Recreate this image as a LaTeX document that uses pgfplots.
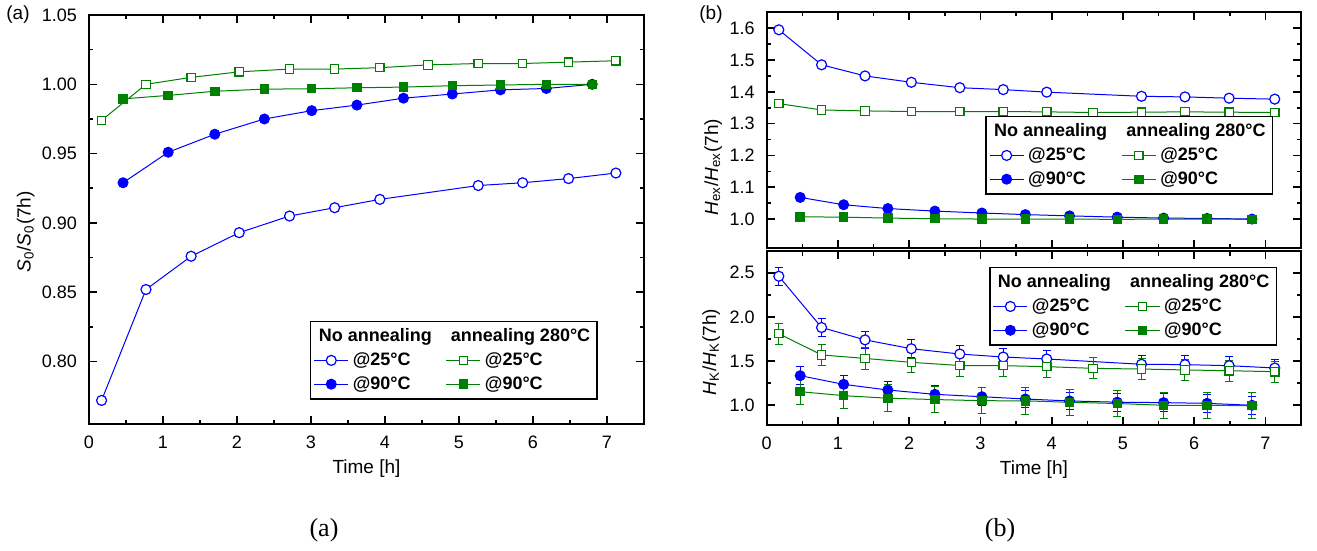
\documentclass[border=0pt]{standalone}
\usepackage{fontspec}
\setmainfont{Liberation Sans}
\newfontfamily\capfont{Liberation Serif}
\usepackage{pgfplots}
\pgfplotsset{compat=1.18}

\definecolor{ob}{RGB}{0,0,255}
\definecolor{og}{RGB}{0,128,0}

\pgfplotsset{
  ax/.style={
    scale only axis, anchor=south west,
    xmin=0, xmax=7.5, xtick={0,...,7},
    minor x tick num=1, minor y tick num=1,
    tick align=inside, major tick length=4pt, minor tick length=2.2pt,
    axis line style={line width=1pt},
    every tick/.append style={line width=0.8pt, black},
    tick label style={font=\fontsize{9}{10}\selectfont},
    label style={font=\fontsize{9.5}{11}\selectfont},
    yticklabel style={xshift=-2.5pt},
    xticklabel style={yshift=-2.5pt},
    /pgf/number format/assume math mode=true,
    legend columns=2,
    legend cell align=left,
    legend style={draw=black, line width=0.8pt, inner sep=1.5pt,
      font=\bfseries\fontsize{9}{10.5}\selectfont,
      /tikz/every even column/.append style={column sep=5pt}},
  },
  bo/.style={color=ob, line width=0.5pt, mark=*, mark size=2.5pt,
    mark options={fill=white, line width=0.6pt}},
  bf/.style={color=ob, line width=0.5pt, mark=*, mark size=2.5pt,
    mark options={fill=ob}},
  go/.style={color=og, line width=0.5pt, mark=square*, mark size=2.1pt,
    mark options={fill=white, line width=0.6pt}},
  gf/.style={color=og, line width=0.5pt, mark=square*, mark size=2.1pt,
    mark options={fill=og}},
  eb/.style={error bars/.cd, y dir=both, y explicit,
    error bar style={line width=0.5pt},
    error mark options={rotate=90, line width=0.5pt, mark size=2pt}},
}

\newcommand{\heads}{%
  \addlegendimage{empty legend}\addlegendentry{\hspace{-17pt}No annealing}
  \addlegendimage{empty legend}\addlegendentry{\hspace{-17pt}annealing 280°C}}

\begin{document}
\begin{tikzpicture}
\useasboundingbox (0,0) rectangle (658.5pt,275.5pt);

% ---- (a) S0/S0(7h)
\begin{axis}[ax,
  at={(44.5pt,63.5pt)}, width=277.5pt, height=204.5pt,
  ymin=0.755, ymax=1.05, ytick={0.80,0.85,...,1.06},
  y tick label style={/pgf/number format/fixed, /pgf/number format/fixed zerofill, /pgf/number format/precision=2},
  xlabel={Time [h]},
  xlabel style={at={(axis description cs:0.5,-0.086)}, anchor=north, inner sep=0pt},
  ylabel={\textit{S}\textsubscript{0}/\textit{S}\textsubscript{0}(7h)},
  ylabel style={at={(axis description cs:-0.114,0.47)}, anchor=center, inner sep=0pt},
  legend style={at={(0.398,0.059)}, anchor=south west},
]
\heads
\addplot[bo] coordinates {(0.17,0.772)(0.77,0.852)(1.38,0.876)(2.03,0.893)(2.71,0.905)(3.32,0.911)(3.93,0.917)(5.26,0.927)(5.86,0.929)(6.48,0.932)(7.12,0.936)};
\addlegendentry{@25°C}
\addplot[go] coordinates {(0.17,0.974)(0.77,1.000)(1.38,1.005)(2.03,1.009)(2.71,1.011)(3.32,1.011)(3.93,1.012)(4.58,1.014)(5.26,1.015)(5.86,1.015)(6.48,1.016)(7.12,1.017)};
\addlegendentry{@25°C}
\addplot[bf] coordinates {(0.46,0.929)(1.07,0.951)(1.70,0.964)(2.37,0.975)(3.01,0.981)(3.62,0.985)(4.25,0.990)(4.91,0.993)(5.56,0.996)(6.18,0.997)(6.80,1.000)};
\addlegendentry{@90°C}
\addplot[gf] coordinates {(0.46,0.9895)(1.07,0.992)(1.70,0.995)(2.37,0.9965)(3.01,0.9968)(3.62,0.9975)(4.25,0.998)(4.91,0.999)(5.56,0.9995)(6.18,1.000)(6.80,1.000)};
\addlegendentry{@90°C}
\end{axis}

% ---- (b) top: Hex/Hex(7h)
\begin{axis}[ax,
  at={(383.35pt,151.5pt)}, width=267.2pt, height=118pt,
  ymin=0.909, ymax=1.651, ytick={1.0,1.1,...,1.65},
  y tick label style={/pgf/number format/fixed, /pgf/number format/fixed zerofill, /pgf/number format/precision=1},
  xticklabels={},
  ylabel={\textit{H}\textsubscript{ex}/\textit{H}\textsubscript{ex}(7h)},
  ylabel style={at={(axis description cs:-0.100,0.343)}, anchor=center, inner sep=0pt},
  legend style={at={(0.409,0.225)}, anchor=south west},
]
\heads
\addplot[bo] coordinates {(0.17,1.595)(0.77,1.485)(1.38,1.450)(2.03,1.430)(2.71,1.413)(3.32,1.407)(3.93,1.399)(5.26,1.386)(5.87,1.384)(6.49,1.380)(7.13,1.377)};
\addlegendentry{@25°C}
\addplot[go] coordinates {(0.17,1.363)(0.77,1.343)(1.38,1.340)(2.03,1.338)(2.71,1.338)(3.32,1.338)(3.93,1.337)(4.58,1.335)(5.26,1.336)(5.87,1.337)(6.49,1.336)(7.13,1.335)};
\addlegendentry{@25°C}
\addplot[bf, eb] coordinates {(0.47,1.068)+-(0,0.008)(1.08,1.045)+-(0,0.008)(1.70,1.033)+-(0,0.008)(2.36,1.025)+-(0,0.008)(3.02,1.019)+-(0,0.008)(3.63,1.014)+-(0,0.008)(4.25,1.010)+-(0,0.008)(4.92,1.006)+-(0,0.008)(5.57,1.003)+-(0,0.008)(6.18,1.002)+-(0,0.008)(6.81,1.000)+-(0,0.008)};
\addlegendentry{@90°C}
\addplot[gf, eb] coordinates {(0.47,1.007)+-(0,0.012)(1.08,1.006)+-(0,0.012)(1.70,1.003)+-(0,0.012)(2.36,1.001)+-(0,0.012)(3.02,1.000)+-(0,0.012)(3.63,1.000)+-(0,0.012)(4.25,1.000)+-(0,0.012)(4.92,0.999)+-(0,0.012)(5.57,1.000)+-(0,0.012)(6.18,1.000)+-(0,0.012)(6.81,0.999)+-(0,0.012)};
\addlegendentry{@90°C}
\end{axis}

% ---- (b) bottom: HK/HK(7h)
\begin{axis}[ax,
  at={(383.35pt,63pt)}, width=267.2pt, height=86.75pt,
  ymin=0.777, ymax=2.74, ytick={1.0,1.5,2.0,2.5},
  y tick label style={/pgf/number format/fixed, /pgf/number format/fixed zerofill, /pgf/number format/precision=1},
  xlabel={Time [h]},
  xlabel style={at={(axis description cs:0.5,-0.202)}, anchor=north, inner sep=0pt},
  ylabel={\textit{H}\textsubscript{K}/\textit{H}\textsubscript{K}(7h)},
  ylabel style={at={(axis description cs:-0.104,0.42)}, anchor=center, inner sep=0pt},
  legend style={at={(0.416,0.912)}, anchor=north west},
]
\heads
\addplot[bo, eb] coordinates {(0.17,2.46)+-(0,0.1)(0.77,1.88)+-(0,0.1)(1.38,1.74)+-(0,0.1)(2.03,1.64)+-(0,0.1)(2.71,1.58)+-(0,0.1)(3.32,1.546)+-(0,0.1)(3.93,1.524)+-(0,0.1)(5.26,1.464)+-(0,0.1)(5.87,1.46)+-(0,0.1)(6.49,1.448)+-(0,0.1)(7.13,1.422)+-(0,0.1)};
\addlegendentry{@25°C}
\addplot[go, eb] coordinates {(0.17,1.81)+-(0,0.12)(0.77,1.57)+-(0,0.12)(1.38,1.53)+-(0,0.12)(2.03,1.486)+-(0,0.12)(2.71,1.45)+-(0,0.12)(3.32,1.448)+-(0,0.12)(3.93,1.437)+-(0,0.12)(4.58,1.418)+-(0,0.12)(5.26,1.41)+-(0,0.12)(5.87,1.40)+-(0,0.12)(6.49,1.391)+-(0,0.12)(7.13,1.38)+-(0,0.12)};
\addlegendentry{@25°C}
\addplot[bf, eb] coordinates {(0.47,1.335)+-(0,0.1)(1.08,1.237)+-(0,0.1)(1.70,1.173)+-(0,0.1)(2.36,1.124)+-(0,0.1)(3.02,1.097)+-(0,0.1)(3.63,1.071)+-(0,0.1)(4.25,1.049)+-(0,0.1)(4.92,1.035)+-(0,0.1)(5.57,1.03)+-(0,0.1)(6.18,1.022)+-(0,0.1)(6.81,1.0)+-(0,0.1)};
\addlegendentry{@90°C}
\addplot[gf, eb] coordinates {(0.47,1.154)+-(0,0.15)(1.08,1.109)+-(0,0.15)(1.70,1.08)+-(0,0.15)(2.36,1.065)+-(0,0.15)(3.02,1.052)+-(0,0.15)(3.63,1.05)+-(0,0.15)(4.25,1.034)+-(0,0.15)(4.92,1.02)+-(0,0.15)(5.57,1.0)+-(0,0.15)(6.18,1.0)+-(0,0.15)(6.81,0.995)+-(0,0.15)};
\addlegendentry{@90°C}
\end{axis}

\node[font=\fontsize{9.5}{11}\selectfont] at (9pt,268pt) {(a)};
\node[font=\fontsize{9.5}{11}\selectfont] at (355.5pt,268pt) {(b)};
\node[font=\capfont\fontsize{13}{15}\selectfont] at (162pt,10.5pt) {(a)};
\node[font=\capfont\fontsize{13}{15}\selectfont] at (500pt,10.5pt) {(b)};
\end{tikzpicture}
\end{document}
